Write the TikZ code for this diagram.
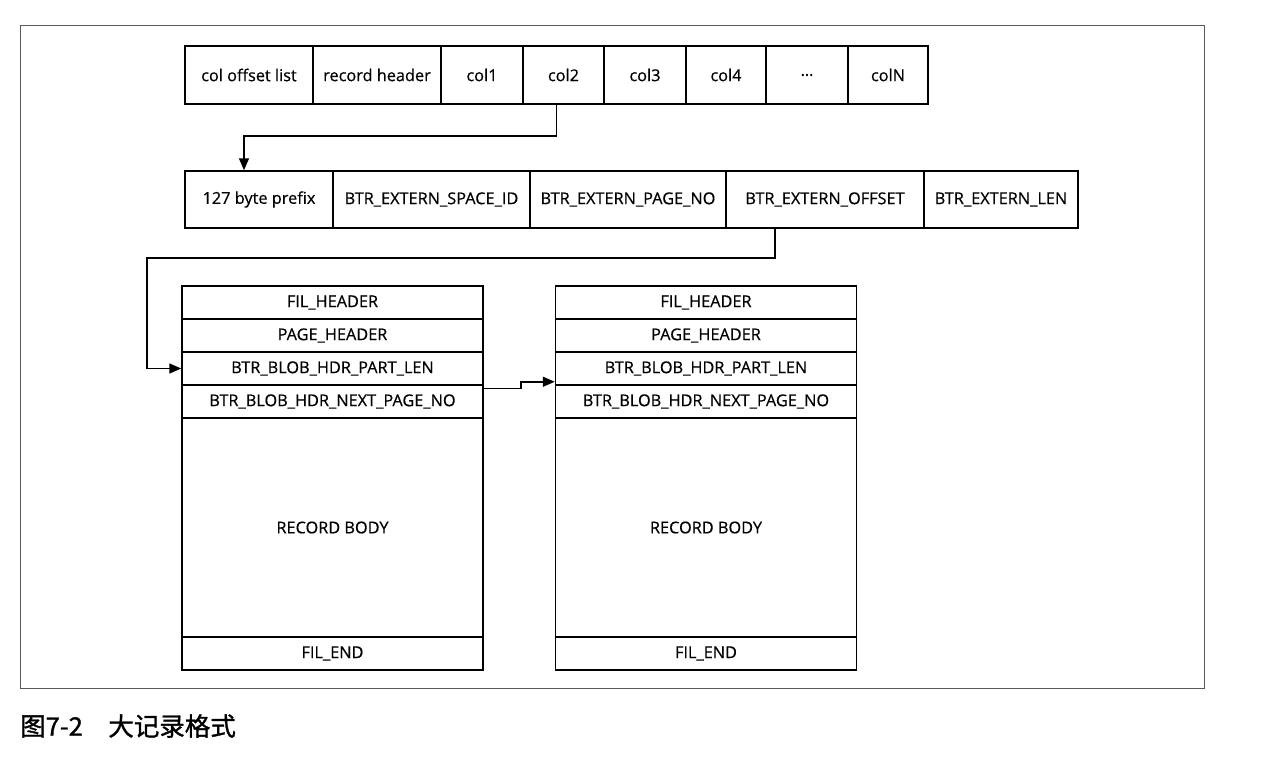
\documentclass[tikz,border=0pt]{standalone}
\usepackage{fontspec}
\setmainfont{Open Sans}[FakeBold=0.5]
\newfontfamily\cjk{Noto Sans CJK SC}[FakeBold=1.2]
\usetikzlibrary{arrows.meta}

\begin{document}
\begin{tikzpicture}
[x=1pt,y=-1pt,
  celldecorate/.style={shape=rectangle,draw,line width=1.5pt,inner sep=0pt,font=\fontsize{16.3}{18}\selectfont},
  linedecorate/.style={-{Triangle[length=12pt,width=10pt]},line width=1.5pt},
  framedecorate/.style={draw=black!65,line width=1pt}]
\useasboundingbox (0,0) rectangle (1261,756);
%% outer frame
\draw[framedecorate] (20,25) rectangle (1204,688);
%% record columns
\foreach \nodename/\x/\w/\txt in {offs/249/128/col offset list, rhdr/377/128/record header,
  c1/482/82/col1, c2/563.5/81/col2, c3/645/82/col3, c4/726/80/col4, dots/807/82/\ldots, cN/888/80/colN} {
  \node (\nodename) at (\x,75) [celldecorate,minimum width=\w pt,minimum height=58pt] {\txt};
}
%% extern field
\foreach \nodename/\x/\w/\txt in {pfx/259/148/127 byte prefix, spc/431.5/197/BTR\_EXTERN\_SPACE\_ID,
  pno/628/196/BTR\_EXTERN\_PAGE\_NO, off/825/198/BTR\_EXTERN\_OFFSET, len/1001/154/BTR\_EXTERN\_LEN} {
  \node (\nodename) at (\x,199.5) [celldecorate,minimum width=\w pt,minimum height=57pt] {\txt};
}
%% blob pages
\foreach \pg/\x in {A/332.5, B/706} {
  \foreach \nodename/\y/\h/\txt in {1/302.5/33/FIL\_HEADER, 2/335.5/33/PAGE\_HEADER,
    3/368.5/33/BTR\_BLOB\_HDR\_PART\_LEN, 4/401.5/33/BTR\_BLOB\_HDR\_NEXT\_PAGE\_NO,
    5/527.5/219/RECORD BODY, 6/653.5/33/FIL\_END} {
    \node (p\pg\nodename) at (\x,\y) [celldecorate,minimum width=301pt,minimum height=\h pt] {\txt};
  }
}
%% pointers
\coordinate (bendA) at (147,258);
\draw[linedecorate] ([xshift=-7pt]c2.south) -- ++(0,31) -| ([xshift=-15pt]pfx.north);
\draw[linedecorate] ([xshift=-50pt]off.south) |- (bendA) |- (pA3.west);
\draw[linedecorate] ([yshift=-4pt]pA4.north east) -- ++(37,0) |- ([yshift=4pt]pB3.south west);
%% caption
\node (caption) at (20,726) [anchor=west,inner sep=0pt,font=\cjk\fontsize{25.5}{28}\selectfont] {图7-2\quad 大记录格式};
\end{tikzpicture}
\end{document}
